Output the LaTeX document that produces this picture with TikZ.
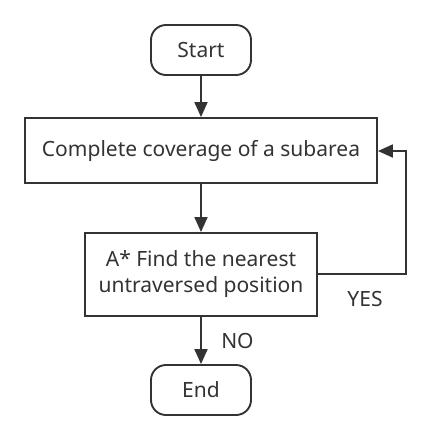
\documentclass[tikz,border=0pt]{standalone}
\usepackage{fontspec}
\setmainfont{Noto Sans}
\usetikzlibrary{arrows.meta}

\tikzset{
  term/.style={draw=linegray, line width=1.9pt, rounded corners=15pt, minimum width=100pt, minimum height=50pt, inner sep=0pt},
  proc/.style={draw=linegray, line width=1.9pt, inner sep=0pt, align=center},
  flow/.style={draw=linegray, line width=1.9pt, -{Triangle[length=15pt,width=13pt]}}
}
\definecolor{linegray}{HTML}{333333}

\begin{document}
\begin{tikzpicture}[x=1pt,y=-1pt,font=\fontsize{21}{26}\selectfont,text=linegray]
        \useasboundingbox (0,0) rectangle (431,440);
        \node[term] (start) at (201,50) {Start};
        \node[proc, minimum width=352pt, minimum height=65pt] (cover) at (201,150.5) {Complete coverage of a subarea};
        \node[proc, minimum width=232pt, minimum height=83pt] (astar) at (201,274.5) {A* Find the nearest\\untraversed position};
        \node[term] (end) at (201,390) {End};
        \coordinate (loopb) at (406,274);
        \coordinate (loopt) at (406,151);
        \draw[flow] (start) -- (cover);
        \draw[flow] (cover) -- (astar);
        \draw[flow] (astar) -- (end) node[midway, right=16pt] {NO};
        \draw[flow] (astar.east |- loopb) -- (loopb) -- (loopt) -- (cover.east |- loopt);
        \node at (365,299) {YES};
\end{tikzpicture}
\end{document}
